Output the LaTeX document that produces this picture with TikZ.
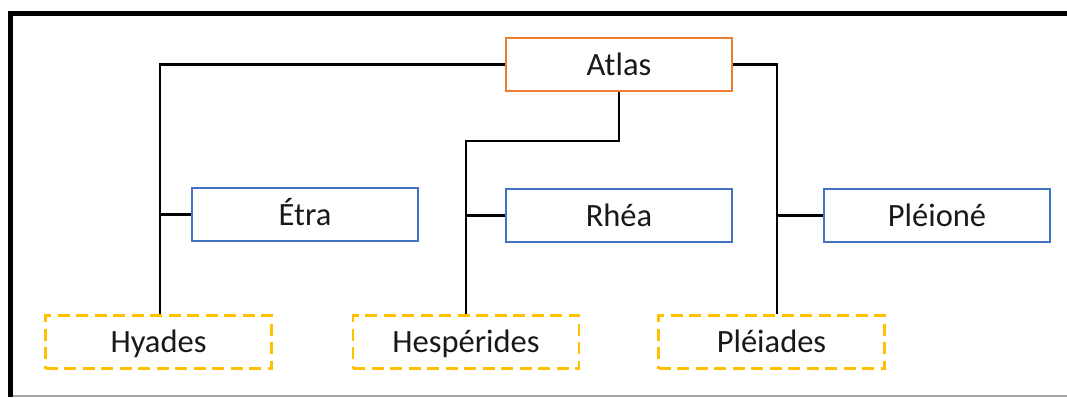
\documentclass[tikz,border=0pt]{standalone}
\usepackage{fontspec}
\setmainfont{Carlito}
\definecolor{orng}{HTML}{ED7D31}
\definecolor{blu}{HTML}{4472C4}
\definecolor{yel}{HTML}{FFC000}
\begin{document}
\begin{tikzpicture}[x=1pt,y=-1pt,
  box/.style={draw, line width=2.4pt, minimum width=226pt, minimum height=53pt, inner sep=0pt,
    text height=27pt, text depth=6pt,
    font=\fontsize{32.5}{36}\selectfont, text=black!90},
  topbox/.style={box, draw=orng},
  midbox/.style={box, draw=blu},
  lowbox/.style={box, draw=yel, line width=2.8pt, dash pattern=on 12pt off 6.5pt},
  conn/.style={line width=2.4pt, black}]
\useasboundingbox (0,0) rectangle (1067,397);
% frame
\draw[line width=5pt] (8,13) -- (1067,13);
\draw[line width=5pt] (10.5,10.5) -- (10.5,397);
\draw[line width=1.5pt, black!35] (13,396.2) -- (1067,396.2);
% nodes
\node[topbox] (atlas) at (619,64.5) {Atlas};
\node[midbox] (etra) at (305,214.5) {Étra};
\node[midbox] (rhea) at (619,215.5) {Rhéa};
\node[midbox] (pleione) at (937,215.5) {Pléioné};
\node[lowbox] (hyades) at (158.5,342) {Hyades};
\node[lowbox] (hesp) at (466,342) {Hespérides};
\node[lowbox] (pleiades) at (771.5,342) {Pléiades};
\coordinate (hyin) at ([xshift=1.5pt]hyades.north);
\coordinate (plin) at ([xshift=5.5pt]pleiades.north);
% connectors
\draw[conn] (atlas.west) -| (hyin);
\draw[conn] (etra.west) -- (etra.west -| hyin);
\draw[conn] (atlas.south) -- ++(0,49) -| (hesp.north);
\draw[conn] (rhea.west) -- (rhea.west -| hesp.north);
\draw[conn] (atlas.east) -| (plin);
\draw[conn] (pleione.west) -- (pleione.west -| plin);
\end{tikzpicture}
\end{document}
